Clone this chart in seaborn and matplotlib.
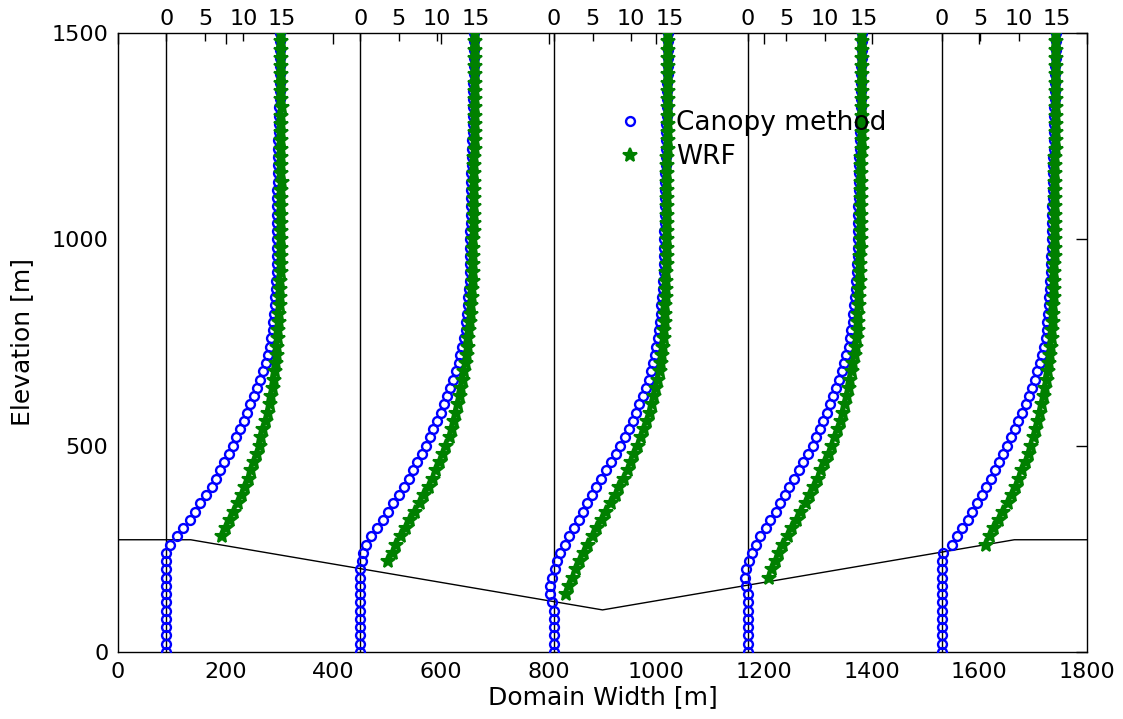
import matplotlib
matplotlib.use("Agg")
import matplotlib.pyplot as plt
import pandas as pd
import seaborn as sns
from matplotlib.lines import Line2D

# ---------------- data ----------------
LEVELS = [0, 20, 40, 60, 80, 100, 120, 140, 160, 180, 200, 220, 240, 260, 280,
          300, 320, 340, 360, 380, 400, 420, 440, 460, 480, 500, 520, 540, 560,
          580, 600, 620, 640, 660, 680, 700, 720, 740, 760, 780, 800, 820, 840,
          860, 880, 900, 920, 940, 960, 980, 1000, 1020, 1040, 1060, 1080, 1100,
          1120, 1140, 1160, 1180, 1200, 1220, 1240, 1260, 1280, 1300, 1320, 1340,
          1360, 1380, 1400, 1420, 1440, 1460, 1480, 1500]

PROFILE_X = [90, 450, 810, 1170, 1530]      # profile base positions [m]
SPEED_SCALE = 14.3                            # metres of domain width per m/s
TOP_TICKS = [0, 5, 10, 15]
TOP_LABELS = ["0", "5", "10", "15"]

TERRAIN_X = [0, 135, 900, 1665, 1800]
TERRAIN_Z = [272, 272, 102, 272, 272]

# Canopy method wind speed at LEVELS (one list per profile)
CANOPY_1 = [0, 0, 0, 0, 0, 0, 0, 0, 0, 0, 0, 0, 0, 0.4, 1.4,
            2.1, 3.1, 3.7, 4.4, 5.1, 5.9, 6.5, 7.0, 7.5, 8.1, 8.6, 9.0, 9.6, 10.1,
            10.5, 10.9, 11.4, 11.8, 12.2, 12.6, 12.9, 13.2, 13.4, 13.6, 13.8, 13.9, 14.0, 14.1,
            14.15, 14.2, 14.25, 14.3, 14.3, 14.3, 14.3, 14.3, 14.3, 14.35, 14.35, 14.35, 14.4,
            14.4, 14.45, 14.45, 14.5, 14.5, 14.55, 14.55, 14.6, 14.6, 14.65, 14.65, 14.7,
            14.7, 14.7, 14.75, 14.75, 14.8, 14.8, 14.8, 14.8]
CANOPY_2 = [0, 0, 0, 0, 0, 0, 0, 0, 0, 0, 0.0, 0.2, 0.4, 0.8, 1.4,
            2.2, 3.0, 3.6, 4.3, 5.0, 5.7, 6.3, 6.9, 7.4, 8.0, 8.5, 9.0, 9.5, 10.0,
            10.5, 10.9, 11.3, 11.7, 12.1, 12.5, 12.8, 13.0, 13.2, 13.5, 13.7, 13.8, 13.9, 14.0,
            14.05, 14.1, 14.2, 14.25, 14.3, 14.3, 14.3, 14.3, 14.3, 14.35, 14.35, 14.35, 14.4,
            14.4, 14.45, 14.45, 14.5, 14.5, 14.55, 14.55, 14.6, 14.6, 14.65, 14.65, 14.7,
            14.7, 14.7, 14.75, 14.75, 14.8, 14.8, 14.8, 14.8]
CANOPY_3 = [0, 0, 0, 0, 0, 0, -0.3, -0.5, -0.5, -0.3, 0.1, 0.4, 0.8, 1.4, 2.0,
            2.6, 3.2, 3.7, 4.3, 4.9, 5.5, 6.1, 6.8, 7.4, 8.0, 8.6, 9.2, 9.7, 10.2,
            10.6, 11.1, 11.5, 11.9, 12.3, 12.6, 12.9, 13.1, 13.3, 13.45, 13.6, 13.75, 13.85, 13.95,
            14.05, 14.1, 14.2, 14.25, 14.3, 14.3, 14.3, 14.3, 14.3, 14.35, 14.35, 14.35, 14.4,
            14.4, 14.45, 14.45, 14.5, 14.5, 14.55, 14.55, 14.6, 14.6, 14.65, 14.65, 14.7,
            14.7, 14.7, 14.75, 14.75, 14.8, 14.8, 14.8, 14.8]
CANOPY_4 = [0, 0, 0, 0, 0, 0, 0, 0, -0.2, -0.4, -0.3, 0.1, 0.5, 1.0, 1.6,
            2.3, 2.9, 3.6, 4.2, 4.8, 5.4, 6.0, 6.6, 7.2, 7.8, 8.4, 8.9, 9.4, 9.8,
            10.3, 10.7, 11.1, 11.5, 11.9, 12.2, 12.5, 12.8, 13.1, 13.3, 13.45, 13.6, 13.7, 13.8,
            13.9, 14.0, 14.1, 14.15, 14.2, 14.25, 14.3, 14.3, 14.3, 14.35, 14.35, 14.35, 14.4,
            14.4, 14.45, 14.45, 14.5, 14.5, 14.55, 14.55, 14.6, 14.6, 14.65, 14.65, 14.7,
            14.7, 14.7, 14.75, 14.75, 14.8, 14.8, 14.8, 14.8]
CANOPY_5 = [0, 0, 0, 0, 0, 0, 0, 0, 0, 0, 0, 0, 0.2, 1.3, 2.0,
            2.6, 3.4, 4.0, 4.6, 5.2, 5.8, 6.4, 6.9, 7.5, 8.0, 8.5, 9.0, 9.5, 9.9,
            10.4, 10.9, 11.3, 11.7, 12.1, 12.4, 12.8, 13.0, 13.3, 13.5, 13.65, 13.75, 13.85, 13.9,
            14.0, 14.05, 14.1, 14.15, 14.2, 14.25, 14.3, 14.3, 14.3, 14.35, 14.35, 14.35, 14.4,
            14.4, 14.45, 14.45, 14.5, 14.5, 14.55, 14.55, 14.6, 14.6, 14.65, 14.65, 14.7,
            14.7, 14.7, 14.75, 14.75, 14.8, 14.8, 14.8, 14.8]

# WRF wind speed at the upper LEVELS (above local ground), one list per profile
WRF_1 = [7.2, 7.7, 8.3, 8.8, 9.3, 9.8, 10.2, 10.7, 11.0, 11.4, 11.8, 12.1, 12.3,
         12.6, 12.9, 13.2, 13.4, 13.6, 13.8, 13.95, 14.1, 14.2, 14.3, 14.4, 14.5,
         14.55, 14.6, 14.65, 14.7, 14.75, 14.8, 14.8, 14.85, 14.85, 14.85, 14.85, 14.85,
         14.9, 14.9, 14.85, 14.9, 14.9, 14.9, 14.95, 14.9, 14.9, 14.9, 14.85, 14.9, 14.9,
         14.9, 14.9, 14.95, 14.9, 14.9, 14.9, 14.9, 14.9, 14.9, 14.9, 14.9, 14.9]
WRF_2 = [3.6, 4.2, 4.7, 5.3, 5.9, 6.5, 7.1, 7.7, 8.3, 8.9, 9.4, 9.9, 10.3, 10.7,
         11.2, 11.6, 11.9, 12.2, 12.5, 12.7, 12.9, 13.1, 13.3, 13.5, 13.7, 13.85,
         13.95, 14.05, 14.15, 14.25, 14.35, 14.45, 14.5, 14.55, 14.6, 14.6, 14.65, 14.65,
         14.7, 14.7, 14.75, 14.75, 14.75, 14.75, 14.75, 14.75, 14.75, 14.75, 14.75, 14.75,
         14.85, 14.85, 14.85, 14.85, 14.85, 14.85, 14.85, 14.85, 14.85, 14.85, 14.85,
         14.85, 14.85, 14.85, 14.85]
WRF_3 = [1.5, 1.9, 2.4, 2.85, 3.35, 3.85, 4.4, 5.0, 5.6, 6.2, 6.8, 7.4, 8.0, 8.5,
         9.05, 9.55, 10.0, 10.45, 10.9, 11.3, 11.7, 12.1, 12.45, 12.75, 13.0, 13.25,
         13.5, 13.7, 13.9, 14.0, 14.15, 14.25, 14.3, 14.35, 14.4, 14.45, 14.5, 14.55,
         14.6, 14.6, 14.65, 14.65, 14.7, 14.7, 14.7, 14.7, 14.7, 14.7, 14.7, 14.7, 14.7,
         14.7, 14.7, 14.7, 14.8, 14.8, 14.8, 14.8, 14.8, 14.8, 14.8, 14.8, 14.8, 14.8,
         14.8, 14.8, 14.8, 14.8, 14.8]
WRF_4 = [2.8, 3.2, 3.6, 4.05, 4.6, 5.2, 5.8, 6.4, 6.95, 7.5, 8.05, 8.55, 9.05, 9.55,
         10.05, 10.5, 10.9, 11.3, 11.7, 12.05, 12.35, 12.6, 12.85, 13.1, 13.3, 13.55,
         13.7, 13.9, 14.0, 14.15, 14.25, 14.3, 14.35, 14.4, 14.45, 14.5, 14.55, 14.55,
         14.6, 14.6, 14.65, 14.65, 14.7, 14.7, 14.7, 14.7, 14.7, 14.7, 14.7, 14.7, 14.7,
         14.7, 14.8, 14.8, 14.8, 14.8, 14.8, 14.8, 14.8, 14.8, 14.8, 14.8, 14.8, 14.8,
         14.8, 14.8, 14.8]
WRF_5 = [5.7, 6.3, 6.85, 7.4, 8.0, 8.6, 9.15, 9.6, 10.05, 10.5, 10.9, 11.3, 11.65,
         11.95, 12.25, 12.55, 12.8, 13.0, 13.25, 13.45, 13.65, 13.8, 13.95, 14.1, 14.2,
         14.3, 14.35, 14.4, 14.45, 14.5, 14.55, 14.6, 14.6, 14.65, 14.65, 14.7, 14.7,
         14.7, 14.75, 14.75, 14.75, 14.75, 14.75, 14.75, 14.75, 14.75, 14.75, 14.75,
         14.85, 14.85, 14.85, 14.85, 14.85, 14.85, 14.85, 14.85, 14.85, 14.85, 14.85,
         14.85, 14.85, 14.85, 14.85]

CANOPY = [CANOPY_1, CANOPY_2, CANOPY_3, CANOPY_4, CANOPY_5]
WRF = [WRF_1, WRF_2, WRF_3, WRF_4, WRF_5]

BLUE = "#0000ff"
GREEN = "#008000"

# ---------------- build table ----------------
rows = []
for i, x0 in enumerate(PROFILE_X):
    for z, u in zip(LEVELS, CANOPY[i]):
        rows.append(("Canopy method", i, z, x0 + u * SPEED_SCALE))
    wrf_levels = LEVELS[-len(WRF[i]):]
    for z, u in zip(wrf_levels, WRF[i]):
        rows.append(("WRF", i, z, x0 + u * SPEED_SCALE))
df = pd.DataFrame(rows, columns=["series", "profile", "z", "x"])

# ---------------- figure ----------------
sns.set_theme(style="white")
plt.rcParams["font.family"] = ["DejaVu Sans"]
plt.rcParams["axes.edgecolor"] = "black"
plt.rcParams["axes.labelcolor"] = "black"
plt.rcParams["text.color"] = "black"
plt.rcParams["axes.linewidth"] = 1.0

fig = plt.figure(figsize=(11.23, 7.19), dpi=100)
ax = fig.add_axes([118 / 1123, 1 - 652 / 719, (1087 - 118) / 1123, (652 - 33) / 719])

# profile base lines
for x0 in PROFILE_X:
    sns.lineplot(x=[x0, x0], y=[0, 1500], color="black", lw=1.0, ax=ax,
                 sort=False, estimator=None, zorder=1)
# terrain
sns.lineplot(x=TERRAIN_X, y=TERRAIN_Z, color="black", lw=1.0, ax=ax,
             sort=False, estimator=None, zorder=1)

for i in range(len(PROFILE_X)):
    sub = df[(df.series == "Canopy method") & (df.profile == i)]
    sns.lineplot(data=sub, x="x", y="z", sort=False, estimator=None, ax=ax,
                 color=BLUE, linestyle="", marker="o", markersize=6.4,
                 markerfacecolor="none", markeredgecolor=BLUE,
                 markeredgewidth=1.7, zorder=3)
    sub = df[(df.series == "WRF") & (df.profile == i)]
    sns.lineplot(data=sub, x="x", y="z", sort=False, estimator=None, ax=ax,
                 color=GREEN, linestyle="", marker="*", markersize=10.5,
                 markerfacecolor=GREEN, markeredgecolor=GREEN,
                 markeredgewidth=1.5, zorder=4)

ax.set_xlim(0, 1800)
ax.set_ylim(0, 1500)
ax.set_xticks(range(0, 1801, 200))
ax.set_yticks([0, 500, 1000, 1500])
ax.tick_params(direction="in", length=8, width=1, top=True, right=True,
               labelsize=16, pad=7, colors="black")
ax.set_xlabel("Domain Width [m]", fontsize=18, color="black")
ax.set_ylabel("Elevation [m]", fontsize=18, color="black")
ax.xaxis.set_label_coords(0.5, -0.054)
ax.yaxis.set_label_coords(-0.087, 0.5)

# top speed axis
top_pos, top_lab = [], []
for x0 in PROFILE_X:
    for t, lab in zip(TOP_TICKS, TOP_LABELS):
        top_pos.append(x0 + t * SPEED_SCALE)
        top_lab.append(lab)
sec = ax.secondary_xaxis("top")
sec.set_xticks(top_pos, top_lab)
sec.tick_params(direction="in", length=6, width=1, labelsize=16, pad=3,
                colors="black")
sec.spines["top"].set_visible(False)

for s in ax.spines.values():
    s.set_visible(True)
    s.set_color("black")
    s.set_linewidth(1.0)

handles = [
    Line2D([], [], linestyle="", marker="o", markersize=6.4, markerfacecolor="none",
           markeredgecolor=BLUE, markeredgewidth=1.7),
    Line2D([], [], linestyle="", marker="*", markersize=10.5, markerfacecolor=GREEN,
           markeredgecolor=GREEN, markeredgewidth=1.5),
]
ax.legend(handles, ["Canopy method", "WRF"], loc="upper left",
          bbox_to_anchor=(605 / 1123, 1 - 110 / 719), bbox_transform=fig.transFigure,
          frameon=False, fontsize=19, handlelength=1.9, handletextpad=0.8,
          borderpad=0, borderaxespad=0, labelspacing=0.3, labelcolor="black")

fig.savefig("out.png", dpi=100)
